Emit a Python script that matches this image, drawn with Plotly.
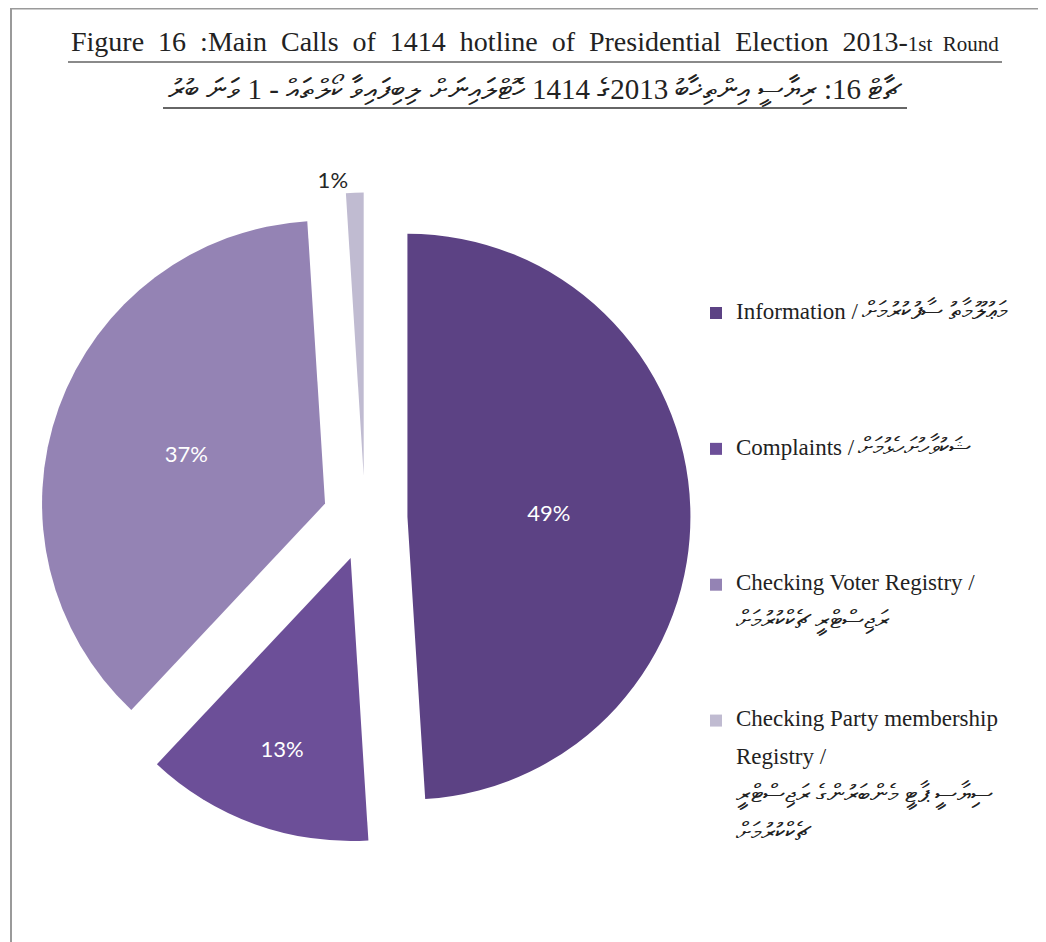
import plotly.graph_objects as go

# the page body adds an 8 px offset, so the figure is drawn 8 px smaller
OFF = 8
W, H = 1046 - OFF, 942 - OFF

# ---------------- data ----------------
categories = ["Information", "Complaints", "Checking Voter Registry",
              "Checking Party membership Registry"]
shares = [49, 13, 37, 1]
slice_colors = ["#5c4284", "#6c4f98", "#9483b4", "#c0bbd1"]

# legend text per category: (english lines, dhivehi lines)
legend_en = [
    ["Information /"],
    ["Complaints /"],
    ["Checking Voter Registry /"],
    ["Checking Party membership", "Registry /"],
]
legend_dv = [
    ["މަޢުލޫމާތު ސާފުކުރުމަށް"],
    ["ޝަކުވާހުށަހެޅުމަށް"],
    ["ރަޖިސްޓްރީ ޗެކްކުރުމަށް"],
    ["ސިޔާސީ ޕާޓީ މެންބަރުންގެ ރަޖިސްޓްރީ", "ޗެކްކުރުމަށް"],
]
dv_inline = [True, True, False, False]
trailing_blank = [6, 6, 4, 0]

title_en = "Figure 16 :Main Calls of 1414 hotline of Presidential Election 2013-"
title_en_small = "1st Round"
title_dv = "ޗާޓް 16: ރިޔާސީ އިންތިޚާބު 2013ގެ 1414 ހޮޓްލައިނަށް ލިބިފައިވާ ކޯލްތައް - 1 ވަނަ ބުރު"


def px_x(x):
    """screen pixel x -> paper fraction"""
    return (x - OFF) / W


def px_y(y):
    """screen pixel y -> paper fraction"""
    return 1 - (y - OFF) / H


BLANK = "\u00a0"
EN = "<span style='font-size:23px'>{}</span>"
DV = "<span style='font-size:25px'>{}</span>"
legend_text = []
for en, dv, inline, nb in zip(legend_en, legend_dv, dv_inline, trailing_blank):
    lines = [EN.format(t) for t in en]
    dvl = [DV.format(t) for t in dv]
    if inline:
        lines[-1] = lines[-1] + " " + dvl[0]
        dvl = dvl[1:]
    lines += dvl
    body = ("<br>" + BLANK + "<br>").join(lines)
    body += ("<br>" + BLANK) * nb
    legend_text.append(body)

fig = go.Figure()

# pie geometry on screen: centre (365,518) px, radius ~283 px, pull 0.15
pull = 0.15
cx, cy, r = 365, 518, 283
half = r * (1 + pull)
fig.add_trace(go.Pie(
    labels=legend_text,
    values=shares,
    sort=False,
    direction="clockwise",
    rotation=0,
    pull=[pull] * len(shares),
    marker=dict(colors=slice_colors, line=dict(width=0)),
    texttemplate="%{percent:.0%}",
    textposition=["inside", "inside", "inside", "outside"],
    insidetextorientation="horizontal",
    insidetextfont=dict(color="white", size=22, family="Lato"),
    outsidetextfont=dict(color="#262626", size=22, family="Lato"),
    domain=dict(x=[px_x(cx - half), px_x(cx + half)],
                y=[px_y(cy + half), px_y(cy - half)]),
    automargin=False,
    hoverinfo="label+percent",
))

shapes = [
    # page border (top and left)
    dict(type="line", xref="paper", yref="paper",
         x0=px_x(11), x1=px_x(1050), y0=px_y(8.5), y1=px_y(8.5),
         line=dict(color="#9a9a9a", width=2)),
    dict(type="line", xref="paper", yref="paper",
         x0=px_x(11), x1=px_x(11), y0=px_y(8), y1=px_y(950),
         line=dict(color="#9a9a9a", width=2)),
    # title underlines
    dict(type="line", xref="paper", yref="paper",
         x0=px_x(68), x1=px_x(1002), y0=px_y(62), y1=px_y(62),
         line=dict(color="#8a8a8a", width=2)),
    dict(type="line", xref="paper", yref="paper",
         x0=px_x(163), x1=px_x(907), y0=px_y(108), y1=px_y(108),
         line=dict(color="#333333", width=1.5)),
]

wide = lambda s: s.replace(" ", " \u00a0")
annotations = [
    dict(xref="paper", yref="paper", x=px_x(535), y=px_y(41),
         xanchor="center", yanchor="middle", showarrow=False,
         text=wide(title_en) + "<span style='font-size:21px'>" + wide(title_en_small) + "</span>",
         font=dict(family="Liberation Serif", size=28, color="#222222")),
    dict(xref="paper", yref="paper", x=px_x(535), y=px_y(90),
         xanchor="center", yanchor="middle", showarrow=False,
         text=title_dv,
         font=dict(family="Liberation Serif", size=29, color="#222222")),
]

fig.update_layout(
    width=W, height=H, autosize=False,
    margin=dict(l=0, r=0, t=0, b=0, autoexpand=False),
    paper_bgcolor="white", plot_bgcolor="white",
    shapes=shapes, annotations=annotations,
    showlegend=True,
    legend=dict(x=px_x(696), y=px_y(297), xanchor="left", yanchor="top",
                valign="top", traceorder="normal",
                font=dict(family="Liberation Serif", size=14.6, color="#222222"),
                bgcolor="rgba(0,0,0,0)", itemclick=False, itemdoubleclick=False),
)

fig.write_html("out.html")
